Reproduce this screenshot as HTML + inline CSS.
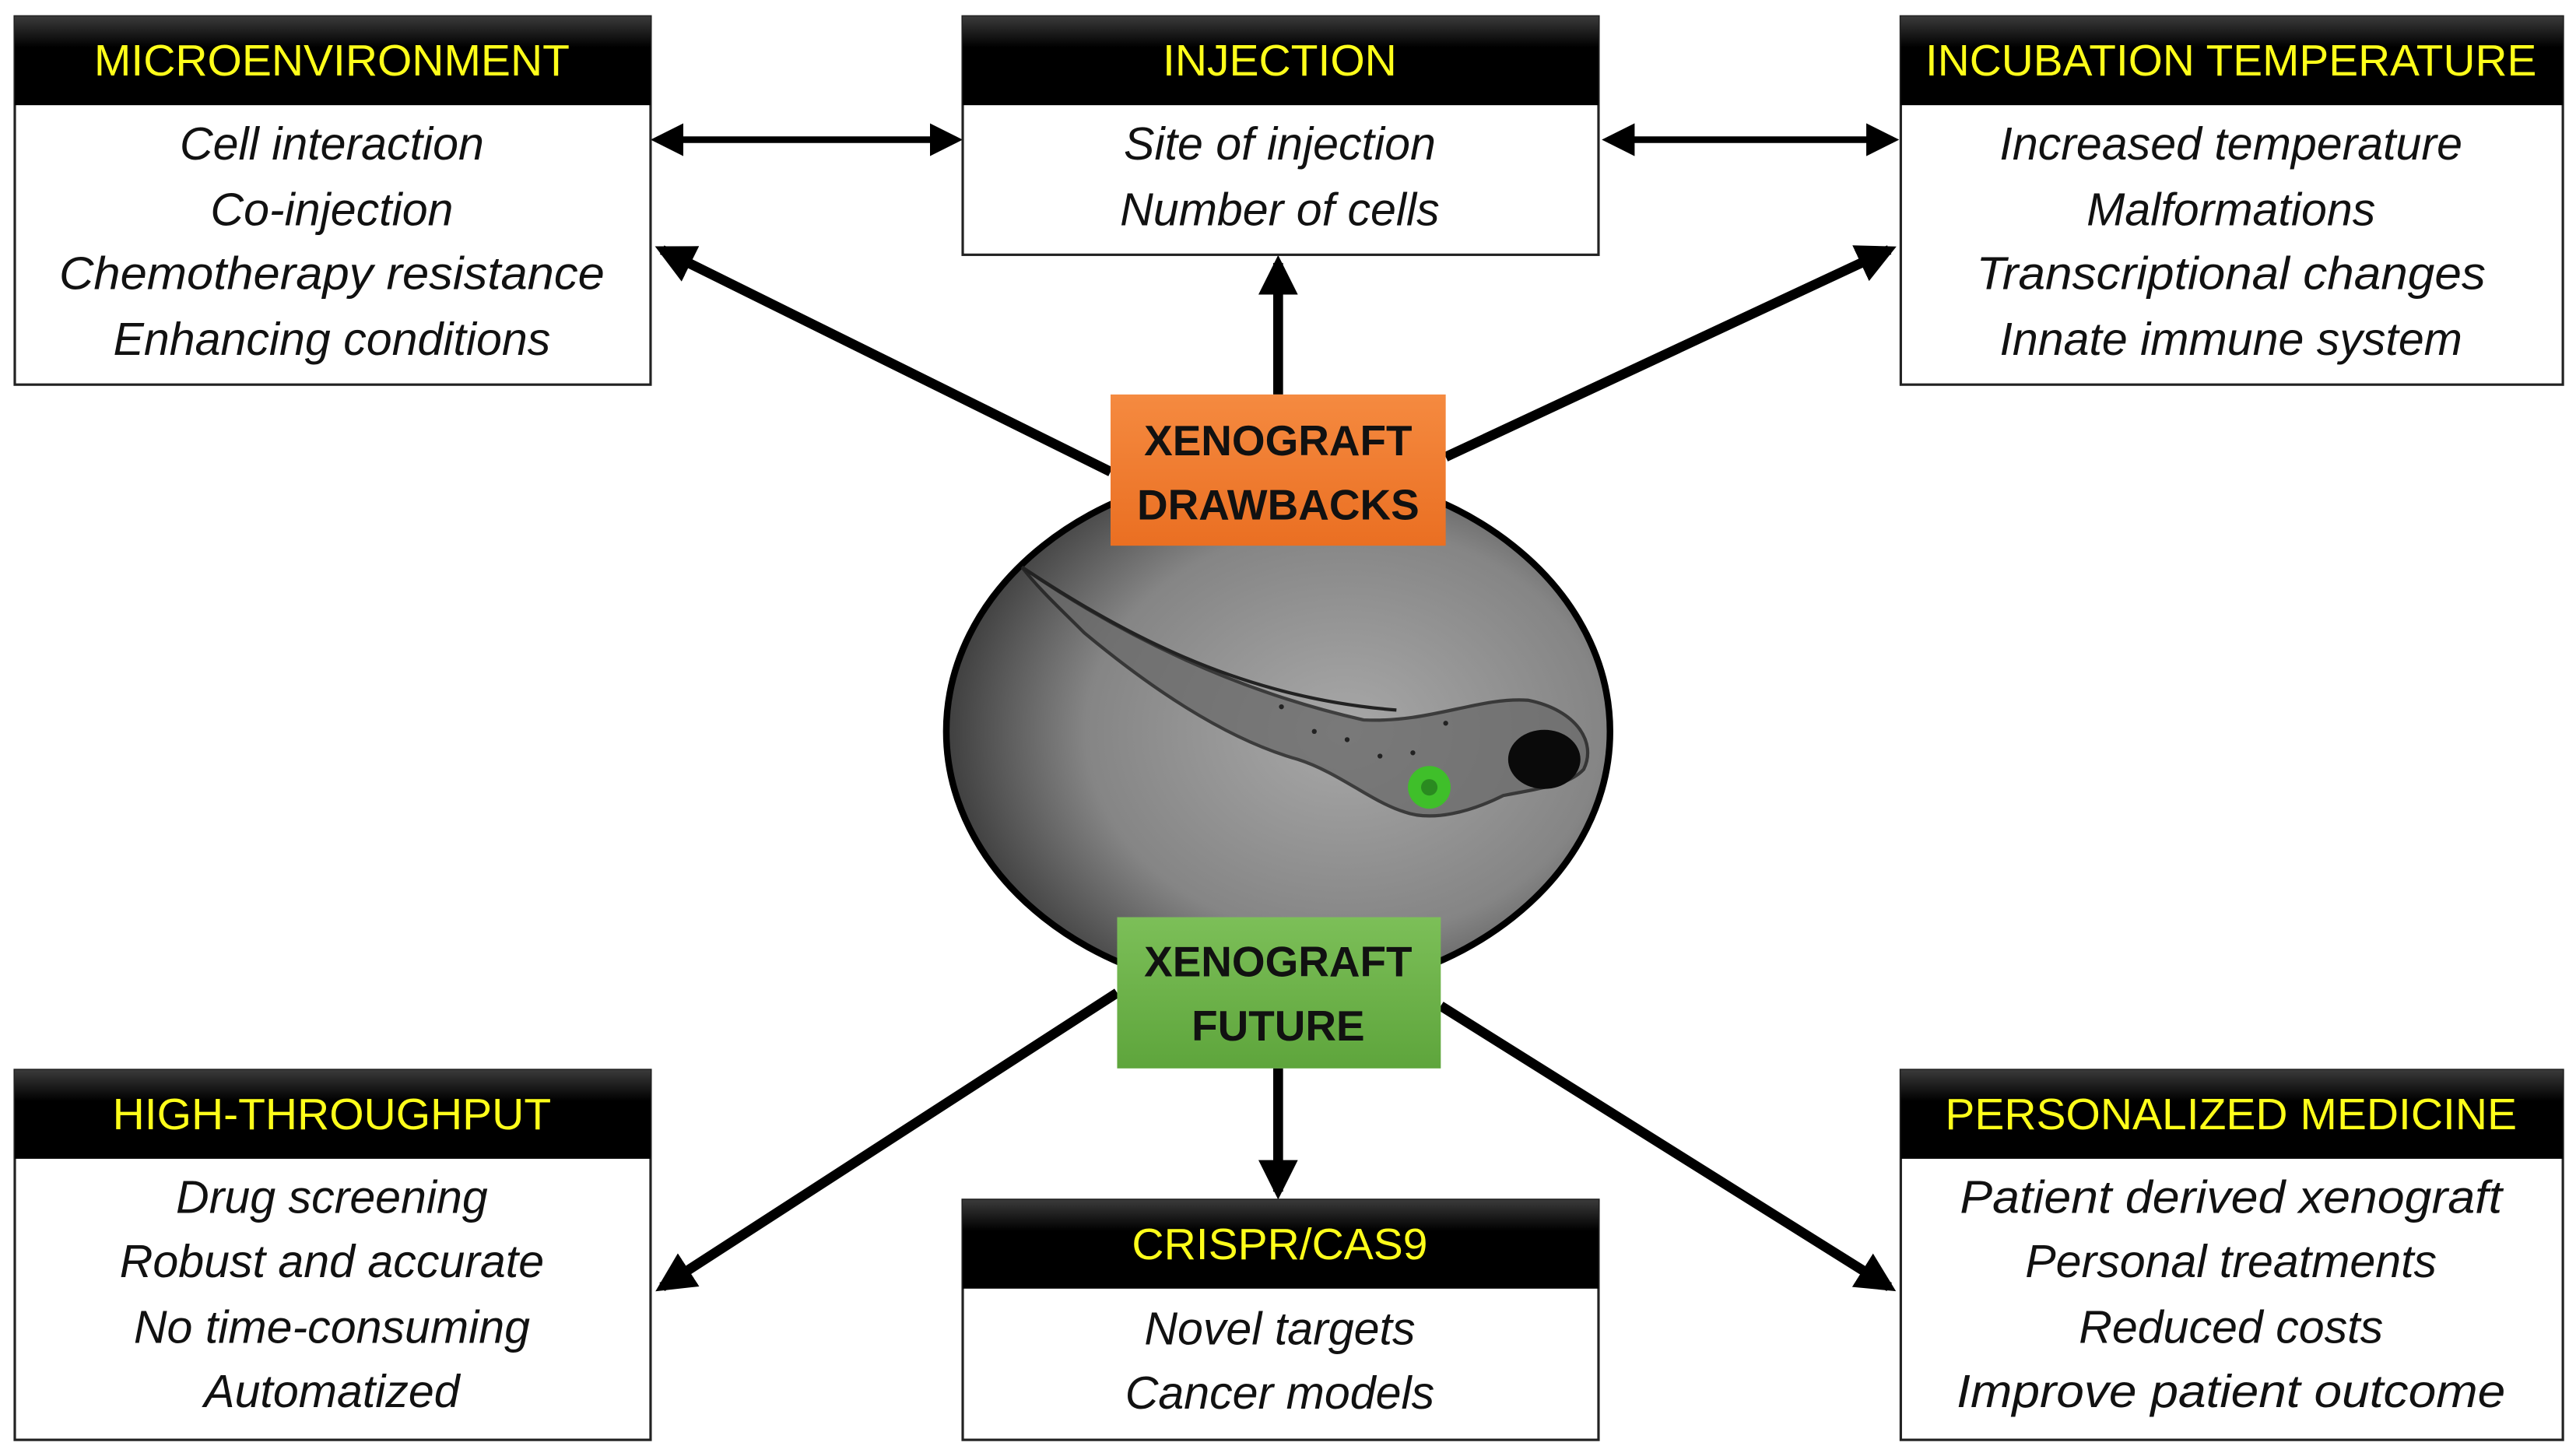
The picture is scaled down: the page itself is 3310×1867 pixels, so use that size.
<!DOCTYPE html>
<html><head><meta charset="utf-8"><style>
html,body{margin:0;padding:0;background:#fff}
svg{display:block}
</style></head><body>
<svg width="3310" height="1867" viewBox="0 0 1568 884" preserveAspectRatio="none" xmlns="http://www.w3.org/2000/svg">
<defs>
<linearGradient id="hd" x1="0" y1="0" x2="0" y2="1">
<stop offset="0" stop-color="#3a3a3a"/><stop offset="0.35" stop-color="#000"/><stop offset="1" stop-color="#000"/>
</linearGradient>
<radialGradient id="bg" cx="0.6" cy="0.5" r="0.65">
<stop offset="0" stop-color="#a8a8a8"/><stop offset="0.6" stop-color="#858585"/><stop offset="1" stop-color="#2e2e2e"/>
</radialGradient>
<linearGradient id="or" x1="0" y1="0" x2="0" y2="1"><stop offset="0" stop-color="#f58a40"/><stop offset="1" stop-color="#ea6f22"/></linearGradient>
<linearGradient id="gr" x1="0" y1="0" x2="0" y2="1"><stop offset="0" stop-color="#7cbf58"/><stop offset="1" stop-color="#5ea53c"/></linearGradient>
<marker id="ah" viewBox="0 0 10 10" refX="8" refY="5" markerWidth="4" markerHeight="4" orient="auto-start-reverse"><path d="M0,0 L10,5 L0,10 z" fill="#000"/></marker>
<marker id="ah2" viewBox="0 0 10 10" refX="8" refY="5" markerWidth="5" markerHeight="5" orient="auto-start-reverse"><path d="M0,0 L10,5 L0,10 z" fill="#000"/></marker>
</defs>
<g font-family="Liberation Sans, sans-serif">
<g stroke="#000" fill="none">
<line x1="400" y1="85" x2="582" y2="85" stroke-width="4" marker-start="url(#ah2)" marker-end="url(#ah2)"/>
<line x1="979" y1="85" x2="1152" y2="85" stroke-width="4" marker-start="url(#ah2)" marker-end="url(#ah2)"/>
<line x1="676" y1="287" x2="403" y2="152" stroke-width="6" marker-end="url(#ah)"/>
<line x1="778" y1="240" x2="778" y2="160" stroke-width="6" marker-end="url(#ah)"/>
<line x1="880" y1="278" x2="1150" y2="152" stroke-width="6" marker-end="url(#ah)"/>
<line x1="680" y1="604" x2="403" y2="783" stroke-width="6" marker-end="url(#ah)"/>
<line x1="778" y1="650" x2="778" y2="725" stroke-width="6" marker-end="url(#ah)"/>
<line x1="877" y1="612" x2="1150" y2="783" stroke-width="6" marker-end="url(#ah)"/>
</g>
<ellipse cx="778" cy="445" rx="202" ry="160" fill="url(#bg)" stroke="#000" stroke-width="4"/>
<g>
<path d="M622,345 C680,385 750,420 830,438 C870,440 900,424 930,426 C960,432 972,452 964,468 C955,478 935,480 915,484 C895,494 872,500 855,494 C835,488 815,470 790,462 C740,448 690,410 660,385 C645,370 632,358 622,345 Z" fill="#6a6a6a" stroke="#1c1c1c" stroke-width="2" opacity="0.75"/>
<path d="M622,345 C690,390 760,425 850,432" stroke="#222" stroke-width="2" fill="none"/>
<ellipse cx="940" cy="462" rx="22" ry="18" fill="#0a0a0a"/>
<circle cx="870" cy="479" r="13" fill="#3fbf2a"/>
<circle cx="870" cy="479" r="5" fill="#2a8a20"/>
<g fill="#222"><circle cx="820" cy="450" r="1.5"/><circle cx="840" cy="460" r="1.5"/><circle cx="860" cy="458" r="1.5"/><circle cx="880" cy="440" r="1.5"/><circle cx="800" cy="445" r="1.5"/><circle cx="780" cy="430" r="1.5"/></g>
</g>
<rect x="676" y="240" width="204" height="92" fill="url(#or)"/>
<text x="778" y="277" font-size="26" font-weight="bold" text-anchor="middle" fill="#111">XENOGRAFT</text>
<text x="778" y="316" font-size="26" font-weight="bold" text-anchor="middle" fill="#111">DRAWBACKS</text>
<rect x="680" y="558" width="197" height="92" fill="url(#gr)"/>
<text x="778" y="594" font-size="26" font-weight="bold" text-anchor="middle" fill="#111">XENOGRAFT</text>
<text x="778" y="633" font-size="26" font-weight="bold" text-anchor="middle" fill="#111">FUTURE</text>

<g font-size="28" text-anchor="middle">
<rect x="9" y="10" width="387" height="224" fill="#fff" stroke="#222" stroke-width="1.5"/>
<rect x="9" y="10" width="387" height="54" fill="url(#hd)"/>
<text x="202" y="46" fill="#ffff1a" font-size="27">MICROENVIRONMENT</text>
<g font-style="italic" fill="#111">
<text x="202" y="97">Cell interaction</text>
<text x="202" y="137">Co-injection</text>
<text x="202" y="176" textLength="332" lengthAdjust="spacingAndGlyphs">Chemotherapy resistance</text>
<text x="202" y="216">Enhancing conditions</text>
</g>
<rect x="586" y="10" width="387" height="145" fill="#fff" stroke="#222" stroke-width="1.5"/>
<rect x="586" y="10" width="387" height="54" fill="url(#hd)"/>
<text x="779" y="46" fill="#ffff1a" font-size="27">INJECTION</text>
<g font-style="italic" fill="#111">
<text x="779" y="97">Site of injection</text>
<text x="779" y="137">Number of cells</text>
</g>
<rect x="1157" y="10" width="403" height="224" fill="#fff" stroke="#222" stroke-width="1.5"/>
<rect x="1157" y="10" width="403" height="54" fill="url(#hd)"/>
<text x="1358" y="46" fill="#ffff1a" font-size="27" textLength="372" lengthAdjust="spacingAndGlyphs">INCUBATION TEMPERATURE</text>
<g font-style="italic" fill="#111">
<text x="1358" y="97">Increased temperature</text>
<text x="1358" y="137">Malformations</text>
<text x="1358" y="176" textLength="310" lengthAdjust="spacingAndGlyphs">Transcriptional changes</text>
<text x="1358" y="216">Innate immune system</text>
</g>
<rect x="9" y="651" width="387" height="225" fill="#fff" stroke="#222" stroke-width="1.5"/>
<rect x="9" y="651" width="387" height="54" fill="url(#hd)"/>
<text x="202" y="687" fill="#ffff1a" font-size="27">HIGH-THROUGHPUT</text>
<g font-style="italic" fill="#111">
<text x="202" y="738">Drug screening</text>
<text x="202" y="777">Robust and accurate</text>
<text x="202" y="817">No time-consuming</text>
<text x="202" y="856">Automatized</text>
</g>
<rect x="586" y="730" width="387" height="146" fill="#fff" stroke="#222" stroke-width="1.5"/>
<rect x="586" y="730" width="387" height="54" fill="url(#hd)"/>
<text x="779" y="766" fill="#ffff1a" font-size="27">CRISPR/CAS9</text>
<g font-style="italic" fill="#111">
<text x="779" y="818">Novel targets</text>
<text x="779" y="857">Cancer models</text>
</g>
<rect x="1157" y="651" width="403" height="225" fill="#fff" stroke="#222" stroke-width="1.5"/>
<rect x="1157" y="651" width="403" height="54" fill="url(#hd)"/>
<text x="1358" y="687" fill="#ffff1a" font-size="27">PERSONALIZED MEDICINE</text>
<g font-style="italic" fill="#111">
<text x="1358" y="738" textLength="330" lengthAdjust="spacingAndGlyphs">Patient derived xenograft</text>
<text x="1358" y="777">Personal treatments</text>
<text x="1358" y="817">Reduced costs</text>
<text x="1358" y="856" textLength="334" lengthAdjust="spacingAndGlyphs">Improve patient outcome</text>
</g>
</g>
</g>
</svg>
</body></html>
